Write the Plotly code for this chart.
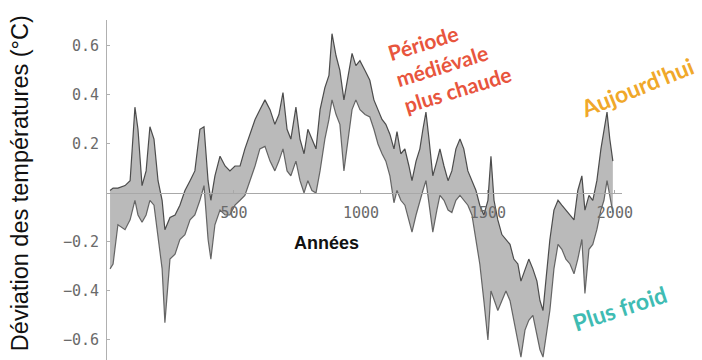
import plotly.graph_objects as go

years = [12, 24, 43, 71, 91, 110, 122, 138, 154, 169, 185, 201, 217, 228, 248, 268, 287, 307, 327, 346,
         366, 382, 398, 409, 425, 445, 465, 484, 504, 524, 543, 563, 583, 602, 622, 642, 661, 677, 693, 709,
         724, 744, 760, 776, 791, 807, 823, 839, 858, 874, 886, 902, 917, 933, 949, 965, 980, 996, 1016, 1035,
         1051, 1067, 1083, 1098, 1114, 1130, 1142, 1157, 1173, 1189, 1201, 1217, 1232, 1244, 1256, 1268, 1283, 1299, 1311, 1327,
         1343, 1358, 1374, 1390, 1405, 1421, 1437, 1453, 1468, 1484, 1500, 1512, 1524, 1539, 1555, 1571, 1587, 1602, 1618, 1630,
         1646, 1661, 1677, 1693, 1705, 1717, 1728, 1744, 1760, 1776, 1791, 1807, 1823, 1839, 1854, 1870, 1882, 1898, 1913, 1929,
         1945, 1957, 1969, 1980, 1992]

upper = [0.01, 0.02, 0.02, 0.03, 0.05, 0.35, 0.26, 0.03, 0.09, 0.27, 0.22, 0.05, -0.03, -0.15, -0.10, -0.09, -0.05, 0.01, 0.05, 0.09,
         0.26, 0.27, 0.05, -0.03, 0.07, 0.15, 0.11, 0.09, 0.11, 0.11, 0.18, 0.24, 0.30, 0.34, 0.38, 0.34, 0.28, 0.32, 0.41, 0.26,
         0.22, 0.35, 0.22, 0.16, 0.26, 0.22, 0.18, 0.34, 0.43, 0.48, 0.65, 0.56, 0.50, 0.38, 0.48, 0.57, 0.52, 0.54, 0.50, 0.46,
         0.38, 0.34, 0.30, 0.28, 0.24, 0.18, 0.25, 0.16, 0.18, 0.11, 0.05, 0.13, 0.18, 0.26, 0.33, 0.22, 0.07, 0.13, 0.18, 0.11,
         0.05, 0.09, 0.18, 0.22, 0.18, 0.09, 0.05, 0.01, -0.05, -0.09, -0.03, 0.15, -0.03, -0.11, -0.17, -0.19, -0.21, -0.27, -0.29, -0.36,
         -0.31, -0.27, -0.31, -0.36, -0.44, -0.48, -0.36, -0.19, -0.07, -0.03, -0.05, -0.07, -0.09, -0.11, 0.01, 0.07, -0.07, -0.01, -0.03, 0.05,
         0.18, 0.26, 0.33, 0.22, 0.13]

lower = [-0.31, -0.29, -0.13, -0.15, -0.11, -0.03, -0.09, -0.12, -0.09, -0.03, -0.05, -0.19, -0.31, -0.53, -0.27, -0.25, -0.19, -0.17, -0.11, -0.09,
         -0.03, 0.03, -0.19, -0.27, -0.13, -0.07, -0.09, -0.09, -0.05, -0.03, -0.01, 0.05, 0.11, 0.18, 0.19, 0.13, 0.09, 0.13, 0.18, 0.09,
         0.07, 0.13, 0.05, 0.00, 0.05, 0.01, 0.00, 0.09, 0.22, 0.30, 0.38, 0.32, 0.28, 0.09, 0.22, 0.34, 0.38, 0.34, 0.32, 0.31,
         0.26, 0.20, 0.16, 0.13, 0.07, -0.04, 0.01, -0.03, -0.05, -0.11, -0.16, -0.09, -0.03, 0.01, 0.05, -0.05, -0.16, -0.07, -0.01, -0.03,
         -0.07, -0.08, -0.03, -0.01, -0.03, -0.05, -0.09, -0.19, -0.29, -0.44, -0.60, -0.40, -0.44, -0.48, -0.44, -0.40, -0.44, -0.52, -0.62, -0.67,
         -0.56, -0.52, -0.50, -0.58, -0.64, -0.67, -0.60, -0.48, -0.31, -0.21, -0.23, -0.27, -0.29, -0.33, -0.27, -0.19, -0.41, -0.23, -0.21, -0.15,
         -0.07, -0.03, 0.05, -0.01, -0.08]

x_ticks = [500, 1000, 1500, 2000]
y_ticks = [-0.6, -0.4, -0.2, 0.2, 0.4, 0.6]

fig = go.Figure()
fig.add_trace(go.Scatter(x=years, y=lower, mode="lines",
                         line=dict(color="rgba(80,80,80,0.85)", width=1.2),
                         hoverinfo="skip", showlegend=False))
fig.add_trace(go.Scatter(x=years, y=upper, mode="lines", fill="tonexty",
                         fillcolor="rgba(130,130,130,0.55)",
                         line=dict(color="rgba(60,60,60,0.9)", width=1.2),
                         hoverinfo="skip", showlegend=False))

tick_font = dict(family="DejaVu Sans Mono", size=15, color="#6a6a6a")

def note(text, x, y, angle, size, color, family="Lato", align="center"):
    return dict(text=text, xref="paper", yref="paper", x=x, y=y,
                xanchor="center", yanchor="middle", showarrow=False,
                textangle=angle, align=align,
                font=dict(family=family, size=size, color=color))

fig.update_layout(
    width=702, height=360,
    margin=dict(l=107, r=80, t=20, b=0),
    paper_bgcolor="white", plot_bgcolor="white",
    xaxis=dict(range=[0, 2028], anchor="free", position=0.491,
               showline=True, linecolor="#a8a8a8", linewidth=1,
               tickvals=x_ticks, ticktext=[str(v) for v in x_ticks],
               ticks="inside", ticklen=3, tickcolor="#a8a8a8",
               tickfont=tick_font, ticklabelstandoff=6,
               showgrid=False, zeroline=False),
    yaxis=dict(range=[-0.682, 0.706],
               showline=True, linecolor="#b0b0b0", linewidth=1,
               tickvals=y_ticks, ticktext=["−0.6", "−0.4", "−0.2", "0.2", "0.4", "0.6"],
               ticks="inside", ticklen=3, tickcolor="#b0b0b0",
               tickfont=tick_font, ticklabelstandoff=4,
               showgrid=False, zeroline=False),
    annotations=[
        note("Déviation des températures (°C)", -0.169, 0.52, -90, 23.5, "#111", "Liberation Sans"),
        note("<b>Années</b>", 0.427, 0.344, 0, 18, "#111", "Liberation Sans"),
        note("<b>Période<br>médiévale<br>plus chaude</b>", 0.666, 0.875, -17, 21, "#e8553d", align="left"),
        note("<b>Aujourd'hui</b>", 1.029, 0.803, -22, 23, "#f0a82a"),
        note("<b>Plus froid</b>", 0.996, 0.153, -18, 23, "#3fbcb3"),
    ],
)

fig.write_html("out.html")
